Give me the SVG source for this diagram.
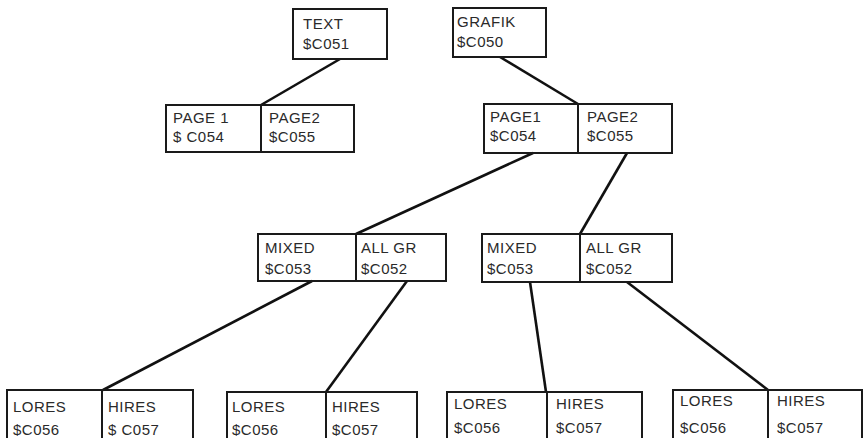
<svg xmlns="http://www.w3.org/2000/svg" width="863" height="438" viewBox="0 0 863 438">
<style>
.box{fill:none;stroke:#1a1a1a;stroke-width:2}
.div{stroke:#1a1a1a;stroke-width:2}
.t{font-family:"Liberation Sans",Arial,sans-serif;font-size:15px;fill:#2a2a2a;letter-spacing:0.5px}
.c{stroke:#111;stroke-width:2.6;fill:none}
</style>
<rect width="863" height="438" fill="#fff"/>
<g id="connectors">
<line class="c" x1="340" y1="59" x2="261" y2="105"/>
<line class="c" x1="500" y1="57" x2="578" y2="104"/>
<line class="c" x1="533" y1="153" x2="356" y2="234"/>
<line class="c" x1="627" y1="153" x2="580" y2="234"/>
<line class="c" x1="312" y1="281" x2="103" y2="390"/>
<line class="c" x1="407" y1="281" x2="326" y2="392"/>
<line class="c" x1="530" y1="282" x2="546" y2="392"/>
<line class="c" x1="627" y1="282" x2="768" y2="390"/>
</g>
<g id="text-node">
<rect class="box" x="293" y="9" width="94" height="50"/>
<text class="t" x="303" y="29">TEXT</text>
<text class="t" x="303" y="49">$C051</text>
</g>
<g id="grafik-node">
<rect class="box" x="453" y="8" width="93" height="49"/>
<text class="t" x="457" y="27" style="font-weight:300">GRAFIK</text>
<text class="t" x="457" y="47">$C050</text>
</g>
<g id="page-left">
<rect class="box" x="166" y="105" width="188" height="47"/>
<line class="div" x1="261" y1="105" x2="261" y2="152"/>
<text class="t" x="173" y="123">PAGE 1</text>
<text class="t" x="173" y="142">$ C054</text>
<text class="t" x="269" y="123">PAGE2</text>
<text class="t" x="269" y="142">$C055</text>
</g>
<g id="page-right">
<rect class="box" x="484" y="104" width="188" height="49"/>
<line class="div" x1="578" y1="104" x2="578" y2="153"/>
<text class="t" x="490" y="122">PAGE1</text>
<text class="t" x="490" y="141">$C054</text>
<text class="t" x="587" y="122">PAGE2</text>
<text class="t" x="587" y="141">$C055</text>
</g>
<g id="mixed-left">
<rect class="box" x="258" y="234" width="188" height="47"/>
<line class="div" x1="356" y1="234" x2="356" y2="281"/>
<text class="t" x="265" y="253">MIXED</text>
<text class="t" x="265" y="274">$C053</text>
<text class="t" x="361" y="253">ALL GR</text>
<text class="t" x="361" y="274">$C052</text>
</g>
<g id="mixed-right">
<rect class="box" x="482" y="234" width="190" height="48"/>
<line class="div" x1="580" y1="234" x2="580" y2="282"/>
<text class="t" x="487" y="253">MIXED</text>
<text class="t" x="487" y="274">$C053</text>
<text class="t" x="586" y="253">ALL GR</text>
<text class="t" x="586" y="274">$C052</text>
</g>
<g id="res-1">
<rect class="box" x="7" y="390" width="186" height="60"/>
<line class="div" x1="102" y1="390" x2="102" y2="450"/>
<text class="t" x="13" y="412">LORES</text>
<text class="t" x="13" y="435">$C056</text>
<text class="t" x="108" y="412">HIRES</text>
<text class="t" x="108" y="435">$ C057</text>
</g>
<g id="res-2">
<rect class="box" x="227" y="392" width="190" height="60"/>
<line class="div" x1="326" y1="392" x2="326" y2="452"/>
<text class="t" x="232" y="412">LORES</text>
<text class="t" x="232" y="435">$C056</text>
<text class="t" x="332" y="412">HIRES</text>
<text class="t" x="332" y="435">$C057</text>
</g>
<g id="res-3">
<rect class="box" x="447" y="392" width="195" height="60"/>
<line class="div" x1="547" y1="392" x2="547" y2="452"/>
<text class="t" x="454" y="409">LORES</text>
<text class="t" x="454" y="433">$C056</text>
<text class="t" x="556" y="409">HIRES</text>
<text class="t" x="556" y="433">$C057</text>
</g>
<g id="res-4">
<rect class="box" x="673" y="390" width="189" height="60"/>
<line class="div" x1="768" y1="390" x2="768" y2="450"/>
<text class="t" x="680" y="406">LORES</text>
<text class="t" x="680" y="433">$C056</text>
<text class="t" x="777" y="406">HIRES</text>
<text class="t" x="777" y="433">$C057</text>
</g>
</svg>
